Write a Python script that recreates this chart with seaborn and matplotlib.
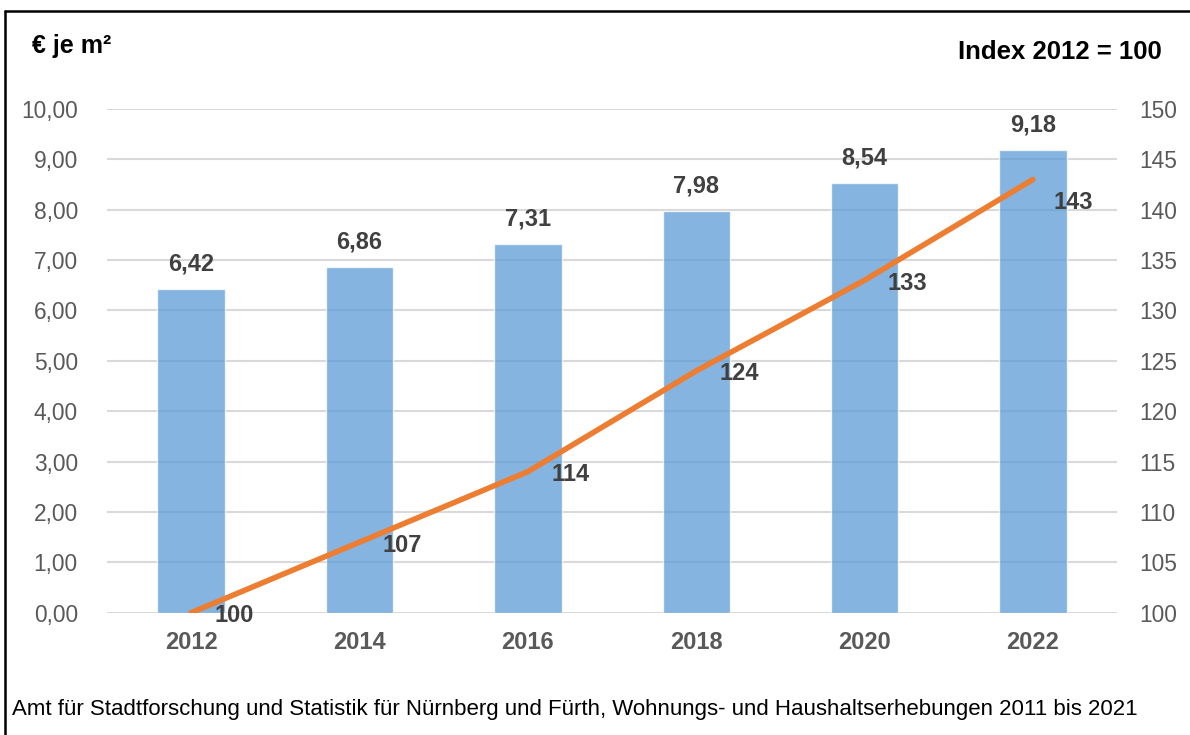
import numpy as np
import pandas as pd
import matplotlib
matplotlib.use("Agg")
import matplotlib.pyplot as plt
import seaborn as sns
from matplotlib.ticker import FuncFormatter, MultipleLocator
from matplotlib.lines import Line2D

# Daten
jahre = ["2012", "2014", "2016", "2018", "2020", "2022"]
miete = [6.42, 6.86, 7.31, 7.98, 8.54, 9.18]
index = [100, 107, 114, 124, 133, 143]

df = pd.DataFrame({"jahr": jahre, "miete": miete, "index": index})

sns.set_style("white")
plt.rcParams["font.family"] = ["Liberation Sans", "DejaVu Sans"]

fig = plt.figure(figsize=(11.9, 7.35), dpi=100)
ax = fig.add_axes([0.0899, 0.1664, 0.8488, 0.6853])

sns.barplot(data=df, x="jahr", y="miete", color="#5B9BD5", alpha=0.75,
            width=0.4, saturation=1, ax=ax, zorder=2)
ax.set_xlim(-0.5, 5.5)
ax.set_ylim(0, 10)
ax.yaxis.set_major_locator(MultipleLocator(1))
ax.yaxis.set_major_formatter(FuncFormatter(lambda v, p: f"{v:.2f}".replace(".", ",")))
ax.grid(axis="y", color="#D9D9D9", linewidth=1.5, zorder=0)
ax.set_axisbelow(True)
ax.set_xlabel("")
ax.set_ylabel("")
for s in ax.spines.values():
    s.set_visible(False)
ax.tick_params(axis="y", length=0, pad=21, labelsize=16.4, labelcolor="#595959")
ax.tick_params(axis="x", length=0, pad=13, labelsize=17, labelcolor="#595959")
for t in ax.get_xticklabels():
    t.set_fontweight("bold")

for i, v in enumerate(miete):
    ax.annotate(f"{v:.2f}".replace(".", ","), (i, v), xytext=(0, 25),
                textcoords="offset pixels", ha="center", va="center",
                fontsize=17, fontweight="bold", color="#404040")

ax2 = ax.twinx()
sns.lineplot(data=df, x="jahr", y="index", color="#ED7D31", linewidth=4,
             ax=ax2, solid_capstyle="round", zorder=3)
ax2.set_ylim(100, 150)
ax2.yaxis.set_major_locator(MultipleLocator(5))
ax2.set_ylabel("")
for s in ax2.spines.values():
    s.set_visible(False)
ax2.tick_params(axis="y", length=0, pad=16, labelsize=16.4, labelcolor="#595959")

for i, v in enumerate(index):
    off = (40, -23) if i == len(index) - 1 else (43, -3)
    ax2.annotate(str(v), (i, v), xytext=off, textcoords="offset pixels",
                 ha="center", va="center", fontsize=17, fontweight="bold",
                 color="#404040")

fig.text(32 / 1190, 1 - 46 / 735, "€ je m²", fontsize=18, fontweight="bold",
         color="black", ha="left", va="center")
fig.text(1162 / 1190, 1 - 52 / 735, "Index 2012 = 100", fontsize=18.5,
         fontweight="bold", color="black", ha="right", va="center")
fig.text(12 / 1190, 1 - 710 / 735,
         "Amt für Stadtforschung und Statistik für Nürnberg und Fürth, "
         "Wohnungs- und Haushaltserhebungen 2011 bis 2021",
         fontsize=16, color="black", ha="left", va="center")

# Rahmen (oben und links)
fig.add_artist(Line2D([4.5 / 1190, 1], [1 - 10.5 / 735] * 2, color="black", linewidth=1.8))
fig.add_artist(Line2D([4.5 / 1190] * 2, [0, 1 - 10.5 / 735], color="black", linewidth=1.8))

fig.savefig("out.png", dpi=100)
